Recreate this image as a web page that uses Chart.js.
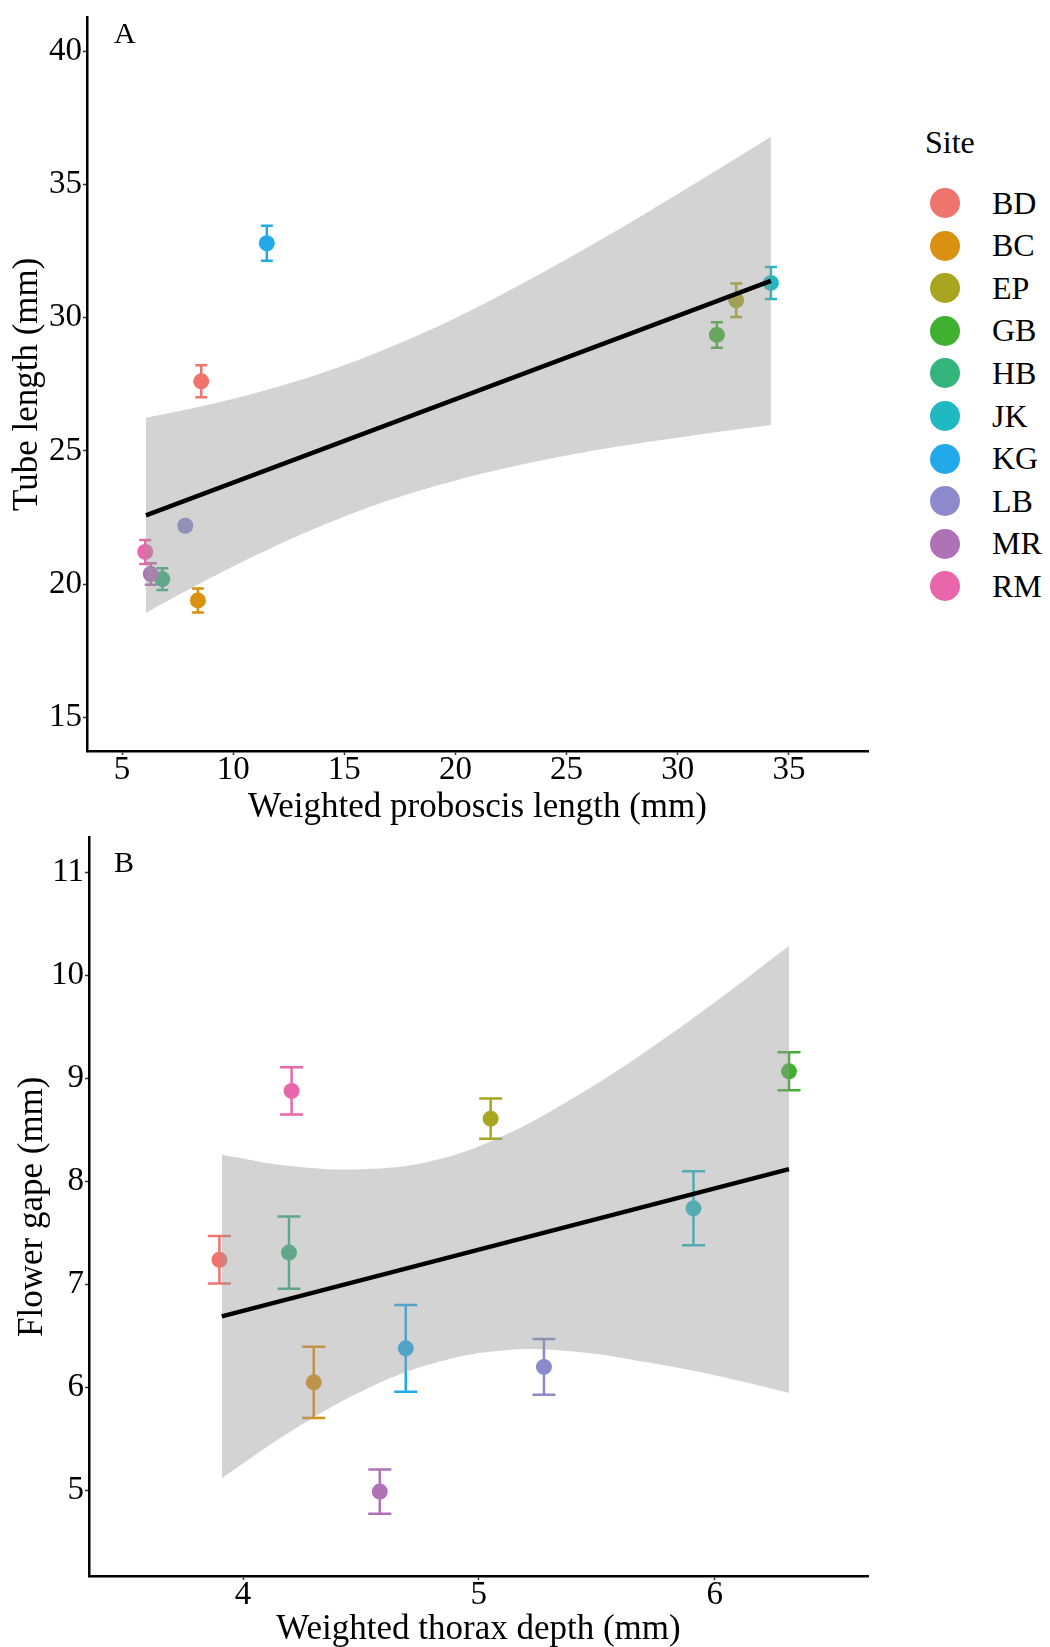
<!DOCTYPE html>
<html>
<head>
<meta charset="utf-8">
<script src="https://cdn.jsdelivr.net/npm/chart.js@4.4.1/dist/chart.umd.min.js"></script>
<style>
    body { margin: 0; background: #fff; width: 1050px; height: 1647px; position: relative; overflow: hidden;
           font-family: 'Liberation Serif', 'DejaVu Serif', serif; }
    canvas { position: absolute; left: 0; }
    #chartA { top: 0; }
    #chartB { top: 820px; }
    .legend-title { position: absolute; left: 925px; top: 126px; font-size: 32px; line-height: 1; }
    .legend-row { position: absolute; left: 930px; height: 42px; display: flex; align-items: center; font-size: 32px; }
    .legend-row span.dot { width: 30px; height: 30px; border-radius: 50%; display: inline-block; margin-right: 32px; }
</style>
</head>
<body>
<canvas id="chartA" width="880" height="832"></canvas>
<canvas id="chartB" width="880" height="827"></canvas>
<div class="legend-title">Site</div>
<div id="legend"></div>

<script>
// sites and their colours
const sites = ['BD', 'BC', 'EP', 'GB', 'HB', 'JK', 'KG', 'LB', 'MR', 'RM'];
const siteColors = ['#F0746E', '#DA9010', '#A8A520', '#40B030', '#35B47E', '#20B9C2', '#22A9EA', '#8C89CC', '#B072B6', '#EA66AC'];

// panel A: tube length vs weighted proboscis length
const proboscisLength = [8.56, 8.41, 32.63, 31.76, 6.81, 34.19, 11.51, 7.84, 6.29, 6.04];
const tubeLength = [27.61, 19.39, 30.65, 29.35, 20.19, 31.30, 32.79, 22.19, 20.38, 21.21];
const tubeLengthSE = [0.60, 0.45, 0.63, 0.48, 0.41, 0.60, 0.66, 0.15, 0.40, 0.45];
const fitAx = [6.07, 34.19];
const fitAy = [22.58, 31.38];
const bandAx = [6.07, 8.88, 11.69, 14.51, 17.32, 20.13, 22.94, 25.75, 28.57, 31.38, 34.19];
const bandAupper = [26.24, 26.73, 27.33, 28.07, 28.98, 30.04, 31.25, 32.55, 33.92, 35.34, 36.79];
const bandAlower = [18.92, 20.19, 21.35, 22.37, 23.23, 23.92, 24.48, 24.94, 25.32, 25.66, 25.97];
const xTicksA = [5, 10, 15, 20, 25, 30, 35];
const yTicksA = [15, 20, 25, 30, 35, 40];

// panel B: flower gape vs weighted thorax depth
const thoraxDepth = [3.90, 4.30, 5.05, 6.315, 4.195, 5.91, 4.69, 5.276, 4.58, 4.206];
const flowerGape = [7.24, 6.05, 8.61, 9.07, 7.31, 7.74, 6.38, 6.20, 4.99, 8.88];
const flowerGapeSE = [0.23, 0.345, 0.195, 0.185, 0.35, 0.36, 0.42, 0.27, 0.215, 0.23];
const fitBx = [3.91, 6.315];
const fitBy = [6.69, 8.12];
const bandBx = [3.91, 4.2, 4.5, 4.8, 5.1, 5.4, 5.7, 6.0, 6.315];
const bandBupper = [8.26, 8.15, 8.12, 8.20, 8.44, 8.81, 9.25, 9.74, 10.29];
const bandBlower = [5.12, 5.57, 5.96, 6.23, 6.36, 6.35, 6.25, 6.12, 5.95];
const xTicksB = [4, 5, 6];
const yTicksB = [5, 6, 7, 8, 9, 10, 11];

const serif = "'Liberation Serif', 'DejaVu Serif', serif";

function pairs(xs, ys) {
    return xs.map((x, i) => ({ x: x, y: ys[i] }));
}

// vertical error bars drawn under the points
const errorBars = {
    id: 'errorBars',
    beforeDatasetsDraw(chart, args, opts) {
        const ctx = chart.ctx;
        const xs = chart.scales.x, ys = chart.scales.y;
        chart.data.datasets.forEach(ds => {
            if (!ds.se) return;
            ds.data.forEach((p, i) => {
                const px = xs.getPixelForValue(p.x);
                const top = ys.getPixelForValue(p.y + ds.se[i]);
                const bot = ys.getPixelForValue(p.y - ds.se[i]);
                ctx.save();
                ctx.strokeStyle = ds.pointBackgroundColor[i];
                ctx.lineWidth = opts.width;
                ctx.beginPath();
                ctx.moveTo(px, top); ctx.lineTo(px, bot);
                ctx.moveTo(px - opts.cap, top); ctx.lineTo(px + opts.cap, top);
                ctx.moveTo(px - opts.cap, bot); ctx.lineTo(px + opts.cap, bot);
                ctx.stroke();
                ctx.restore();
            });
        });
    }
};

// panel letter in the top-left corner
const panelLetter = {
    id: 'panelLetter',
    afterDraw(chart, args, opts) {
        const ctx = chart.ctx;
        ctx.save();
        ctx.font = '30px ' + serif;
        ctx.fillStyle = '#000';
        ctx.textBaseline = 'alphabetic';
        ctx.fillText(opts.text, opts.x, opts.y);
        ctx.restore();
    }
};

function axisOptions(min, max, ticks, title, size, titlePad, labelPad) {
    return {
        type: 'linear',
        min: min,
        max: max,
        afterBuildTicks: axis => { axis.ticks = ticks.map(v => ({ value: v })); },
        afterFit: axis => {
            if (axis.isHorizontal()) axis.height = size; else axis.width = size;
        },
        grid: { display: true, drawOnChartArea: false, drawTicks: true, tickLength: 4, tickWidth: 1.5, tickColor: '#333' },
        border: { display: true, color: '#000', width: 2.5 },
        ticks: { color: '#000', font: { family: serif, size: 33, lineHeight: 1 }, padding: labelPad, maxRotation: 0 },
        title: { display: true, text: title, color: '#000', font: { family: serif, size: 35, lineHeight: 1.1 }, padding: titlePad }
    };
}

function createPanel(canvasId, cfg) {
    return new Chart(document.getElementById(canvasId), {
        type: 'scatter',
        data: {
            datasets: [
                {
                    type: 'line', data: pairs(cfg.bandX, cfg.upper), borderWidth: 0, pointRadius: 0,
                    fill: '+1', backgroundColor: 'rgba(153,153,153,0.43)', tension: 0.4, order: 2
                },
                {
                    type: 'line', data: pairs(cfg.bandX, cfg.lower), borderWidth: 0, pointRadius: 0,
                    fill: false, tension: 0.4, order: 2
                },
                {
                    type: 'line', data: pairs(cfg.fitX, cfg.fitY), borderColor: '#000', borderWidth: 4.5,
                    pointRadius: 0, fill: false, order: 1
                },
                {
                    type: 'scatter', data: pairs(cfg.x, cfg.y), se: cfg.se,
                    pointBackgroundColor: siteColors, pointBorderWidth: 0, pointRadius: 8, order: 3
                }
            ]
        },
        options: {
            responsive: false,
            animation: false,
            events: [],
            layout: { padding: cfg.padding },
            scales: { x: cfg.xAxis, y: cfg.yAxis },
            plugins: {
                legend: { display: false },
                tooltip: { enabled: false },
                errorBars: cfg.bars,
                panelLetter: cfg.letter
            }
        },
        plugins: [errorBars, panelLetter]
    });
}

createPanel('chartA', {
    x: proboscisLength, y: tubeLength, se: tubeLengthSE,
    fitX: fitAx, fitY: fitAy, bandX: bandAx, upper: bandAupper, lower: bandAlower,
    padding: { top: 9, right: 12, left: 0, bottom: 0 },
    xAxis: axisOptions(3.42, 38.56, xTicksA, 'Weighted proboscis length (mm)', 81, { top: 0, bottom: 4.75 }, -1.5),
    yAxis: axisOptions(13.74, 41.26, yTicksA, 'Tube length (mm)', 87, { top: 8.5, bottom: 0 }, 1),
    bars: { cap: 6, width: 2.5 },
    letter: { text: 'A', x: 114, y: 43 }
});

createPanel('chartB', {
    x: thoraxDepth, y: flowerGape, se: flowerGapeSE,
    fitX: fitBx, fitY: fitBy, bandX: bandBx, upper: bandBupper, lower: bandBlower,
    padding: { top: 15, right: 12, left: 0, bottom: 0 },
    xAxis: axisOptions(3.347, 6.65, xTicksB, 'Weighted thorax depth (mm)', 71, { top: 0, bottom: -2 }, -1.5),
    yAxis: axisOptions(4.17, 11.34, yTicksB, 'Flower gape (mm)', 89, { top: 13.8, bottom: 0 }, 1),
    bars: { cap: 11.5, width: 2.5 },
    letter: { text: 'B', x: 114, y: 52 }
});

// legend for the sites
const legend = document.getElementById('legend');
sites.forEach((site, i) => {
    let row = document.createElement('div');
    row.className = 'legend-row';
    row.style.top = (182 + i * 42.6) + 'px';
    let dot = document.createElement('span');
    dot.className = 'dot';
    dot.style.background = siteColors[i];
    row.appendChild(dot);
    row.appendChild(document.createTextNode(site));
    legend.appendChild(row);
});
</script>
</body>
</html>
